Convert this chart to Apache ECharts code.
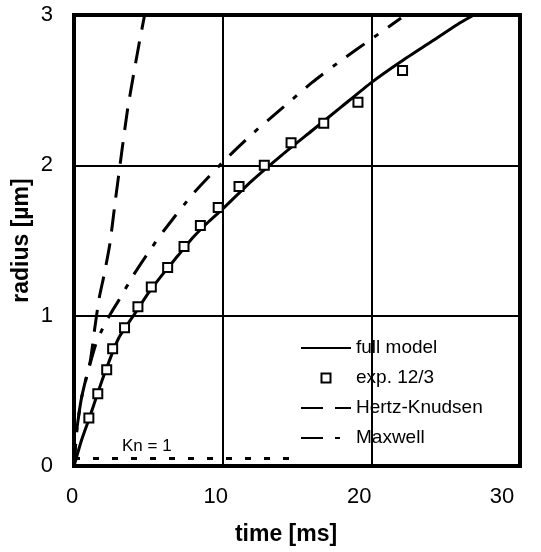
<!DOCTYPE html>
<html>
<head>
<meta charset="utf-8">
<script src="https://cdn.jsdelivr.net/npm/echarts@6/dist/echarts.min.js"></script>
<style>
html,body{margin:0;padding:0;background:#fff;}
#chart{width:541px;height:552px;}
</style>
</head>
<body>
<div id="chart"></div>
<script>
// ---- data ----
var xTicks = [0, 10, 20, 30];
var yTicks = [0, 1, 2, 3];

var fullT = [0, 0.5, 1, 2, 3, 4, 5, 6, 7, 8, 9, 10, 12, 14, 16, 18, 20, 22, 24, 26, 26.9];
var fullR = [0, 0.17, 0.31, 0.6, 0.85, 1.0, 1.15, 1.28, 1.4, 1.52, 1.62, 1.71, 1.9, 2.07, 2.23, 2.39, 2.55, 2.69, 2.82, 2.95, 3.0];

var expT = [1.0, 1.6, 2.2, 2.6, 3.4, 4.3, 5.2, 6.3, 7.4, 8.5, 9.7, 11.1, 12.8, 14.6, 16.8, 19.1, 22.1];
var expR = [0.32, 0.48, 0.64, 0.78, 0.92, 1.06, 1.19, 1.32, 1.46, 1.6, 1.72, 1.86, 2.0, 2.15, 2.28, 2.42, 2.63];

var hkT = [0, 0.2, 0.5, 0.8, 1.1, 1.4, 1.7, 2.0, 2.4, 2.8, 3.2, 3.6, 4.0, 4.4, 4.75];
var hkR = [0, 0.25, 0.45, 0.58, 0.7, 0.92, 1.12, 1.26, 1.47, 1.78, 2.08, 2.37, 2.6, 2.82, 3.0];

var mxT = [0, 0.2, 0.5, 1.0, 1.5, 2.0, 2.5, 3.0, 4.0, 5.0, 6.0, 8.0, 10.0, 12.0, 14.0, 16.0, 18.0, 20.0, 22.0];
var mxR = [0, 0.25, 0.45, 0.65, 0.82, 0.93, 1.02, 1.1, 1.27, 1.42, 1.56, 1.81, 2.02, 2.21, 2.38, 2.55, 2.7, 2.84, 2.98];

var knT = [0, 15];
var knR = [0.05, 0.05];
var knLabelAt = [4.9, 0.05];

var names = ['full model', 'exp. 12/3', 'Hertz-Knudsen', 'Maxwell'];

function pairs(a, b) { return a.map(function (v, i) { return [v, b[i]]; }); }

var FONT = '"Liberation Sans", Arial, sans-serif';

// x tick labels in the reference sit progressively left of their ticks
var xLabelPad = {0: 4, 10: 14, 20: 24, 30: 36};
var xRich = {};
xTicks.forEach(function (v) {
  xRich['t' + v] = {fontFamily: FONT, fontSize: 22, color: '#000', padding: [0, xLabelPad[v], 0, 0]};
});

var chart = echarts.init(document.getElementById('chart'), null, {renderer: 'canvas'});
chart.setOption({
  animation: false,
  backgroundColor: '#fff',
  grid: {left: 74, right: 21, top: 15, bottom: 86, show: true, borderColor: '#000', borderWidth: 4, backgroundColor: 'transparent'},
  xAxis: {
    type: 'value', min: xTicks[0], max: xTicks[xTicks.length - 1], interval: 10,
    name: 'time [ms]', nameLocation: 'middle', nameGap: 57, nameMoveOverlap: false,
    nameTextStyle: {fontFamily: FONT, fontSize: 23, fontWeight: 'bold', color: '#000', padding: [0, 22, 0, 0]},
    axisLine: {show: true, lineStyle: {color: '#000', width: 4}},
    axisTick: {show: true, inside: true, length: 5, lineStyle: {color: '#000', width: 2}},
    axisLabel: {
      fontFamily: FONT, fontSize: 22, color: '#000', margin: 20,
      formatter: function (v) { return '{t' + v + '|' + v + '}'; },
      rich: xRich
    },
    splitLine: {show: true, lineStyle: {color: '#000', width: 2}}
  },
  yAxis: {
    type: 'value', min: yTicks[0], max: yTicks[yTicks.length - 1], interval: 1,
    name: 'radius [µm]', nameLocation: 'middle', nameGap: 41, nameRotate: 90, nameMoveOverlap: false,
    nameTextStyle: {fontFamily: FONT, fontSize: 23, fontWeight: 'bold', color: '#000'},
    axisLine: {show: true, lineStyle: {color: '#000', width: 4}},
    axisTick: {show: true, inside: true, length: 5, lineStyle: {color: '#000', width: 2}},
    axisLabel: {fontFamily: FONT, fontSize: 22, color: '#000', margin: 21},
    splitLine: {show: true, lineStyle: {color: '#000', width: 2}}
  },
  legend: [
    {
      orient: 'vertical', left: 300, top: 333, padding: 0,
      itemWidth: 50, itemHeight: 9, itemGap: 0,
      data: [
        {name: names[0], itemStyle: {opacity: 0}},
        {name: names[1], icon: 'rect', itemStyle: {opacity: 0}},
        {name: names[2], itemStyle: {opacity: 0}},
        {name: names[3], itemStyle: {opacity: 0}}
      ],
      textStyle: {fontFamily: FONT, fontSize: 19, color: '#000', lineHeight: 30},
      inactiveColor: '#000', selectedMode: false
    },
    {
      orient: 'vertical', left: 320.5, top: 372.5, padding: 0,
      itemWidth: 9, itemHeight: 9, itemGap: 0,
      data: [{name: names[1], icon: 'rect', itemStyle: {color: '#fff', borderColor: '#000', borderWidth: 2}}],
      formatter: function () { return ''; },
      textStyle: {fontSize: 1},
      inactiveColor: '#000', selectedMode: false
    }
  ],
  series: [
    {
      name: names[0], type: 'line', data: pairs(fullT, fullR), symbol: 'none', smooth: 0.2,
      lineStyle: {color: '#000', width: 3}, itemStyle: {color: '#000'}, z: 3
    },
    {
      name: names[1], type: 'scatter', data: pairs(expT, expR), symbol: 'rect', symbolSize: 9,
      itemStyle: {color: '#fff', borderColor: '#000', borderWidth: 2, opacity: 1}, z: 5
    },
    {
      name: names[2], type: 'line', data: pairs(hkT, hkR), symbol: 'none', smooth: 0.2,
      lineStyle: {color: '#000', width: 3, type: [22, 12]}, itemStyle: {color: '#000'}, z: 3
    },
    {
      name: names[3], type: 'line', data: pairs(mxT, mxR), symbol: 'none', smooth: 0.2,
      lineStyle: {color: '#000', width: 3, type: [22, 12, 5, 12]}, itemStyle: {color: '#000'}, z: 3
    },
    {
      name: 'Kn = 1', type: 'line', data: pairs(knT, knR), symbol: 'none',
      lineStyle: {color: '#000', width: 3, type: [6, 13]}, z: 3,
      markPoint: {
        symbol: 'circle', symbolSize: 1, itemStyle: {color: 'transparent'},
        label: {show: true, position: 'top', distance: 3, formatter: 'Kn = 1', fontFamily: FONT, fontSize: 17, color: '#000'},
        data: [{coord: knLabelAt}]
      }
    }
  ]
});
</script>
</body>
</html>
